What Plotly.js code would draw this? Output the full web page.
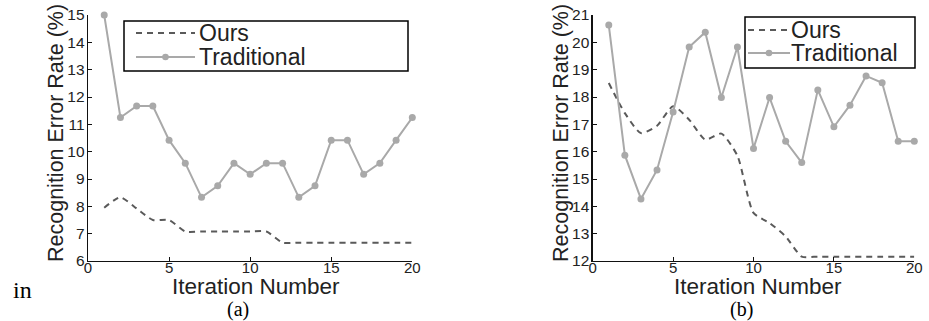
<!DOCTYPE html>
<html>
<head>
<meta charset="utf-8">
<script src="https://cdn.plot.ly/plotly-3.0.1.min.js"></script>
<style>html,body{margin:0;padding:0;background:#fff}#chart{width:929px;height:321px}</style>
</head>
<body>
<div id="chart"></div>
<script>
// ---- data ----
var iterations = [1,2,3,4,5,6,7,8,9,10,11,12,13,14,15,16,17,18,19,20];
var oursA = [7.95,8.33,7.92,7.5,7.5,7.08,7.08,7.08,7.08,7.08,7.08,6.67,6.67,6.67,6.67,6.67,6.67,6.67,6.67,6.67];
var tradA = [15,11.25,11.67,11.67,10.42,9.58,8.33,8.75,9.58,9.17,9.58,9.58,8.33,8.75,10.42,10.42,9.17,9.58,10.42,11.25];
var oursB = [18.51,17.41,16.68,16.95,17.66,17.17,16.44,16.66,15.85,13.76,13.39,12.9,12.16,12.16,12.16,12.16,12.16,12.16,12.16,12.16];
var tradB = [20.63,15.87,14.27,15.33,17.45,19.83,20.37,17.98,19.83,16.12,17.98,16.38,15.6,18.26,16.91,17.7,18.77,18.52,16.38,16.38];
var seriesNames = ["Ours","Traditional"];
var panelLabels = ["(a)","(b)"];
var xTitle = "Iteration Number";
var yTitle = "Recognition Error Rate (%)";

var W = 929, H = 321;
function px(x){return x/W;}
function py(y){return 1 - y/H;}

var oursColor = "#5a5a5a", tradColor = "#a9a9a9";
var sans = "Liberation Sans, Arial, sans-serif";
var serif = "Liberation Serif, Times New Roman, serif";

function oursTrace(y, xa, ya, shape){
  return {x: iterations, y: y, xaxis: xa, yaxis: ya, mode: "lines", name: seriesNames[0], showlegend:false,
    line: {color: oursColor, width: 2, dash: "6px,5px", shape: shape, smoothing: 0.6}, cliponaxis:false, hoverinfo:"x+y"};
}
function tradTrace(y, xa, ya){
  return {x: iterations, y: y, xaxis: xa, yaxis: ya, mode: "lines+markers", name: seriesNames[1], showlegend:false,
    line: {color: tradColor, width: 2}, marker: {color: tradColor, size: 7}, cliponaxis:false, hoverinfo:"x+y"};
}

var data = [
  oursTrace(oursA, "x", "y", "spline"),
  tradTrace(tradA, "x", "y"),
  oursTrace(oursB, "x2", "y2", "spline"),
  tradTrace(tradB, "x2", "y2")
];

function xaxis(domain, anchor){
  return {domain: domain, anchor: anchor, range: [0,20], dtick: 5, tick0: 0,
    showgrid: false, zeroline: false, showline: true, linecolor: "#111", linewidth: 1.3,
    ticks: "inside", ticklen: 4, tickcolor: "#111", tickfont: {family: sans, size: 15, color: "#222"},
    ticklabelstandoff: -7, automargin: false};
}
function yaxis(domain, anchor, range){
  return {domain: domain, anchor: anchor, range: range, dtick: 1,
    showgrid: false, zeroline: false, showline: true, linecolor: "#111", linewidth: 1.3,
    ticks: "inside", ticklen: 4, tickcolor: "#111", tickfont: {family: sans, size: 15.5, color: "#222"},
    ticklabelstandoff: -1, automargin: false};
}

var yDom = [py(261), py(15)];

var shapes = [], annotations = [];
// axis titles
function axisTitles(xc, yc){
  annotations.push({xref:"paper", yref:"paper", x:px(xc), y:py(286), xanchor:"center", yanchor:"middle",
    text:xTitle, showarrow:false, font:{family:sans, size:22.5, color:"#222"}});
  annotations.push({xref:"paper", yref:"paper", x:px(yc), y:py(133), xanchor:"center", yanchor:"middle", textangle:-90,
    text:yTitle, showarrow:false, font:{family:sans, size:21.5, color:"#222"}});
}
axisTitles(256, 56);
axisTitles(758, 561);

// manual legends
function legend(box, oursRowY, tradRowY, sampleX0, sampleX1, textX){
  shapes.push({type:"rect", xref:"paper", yref:"paper", x0:px(box[0]), x1:px(box[1]), y0:py(box[3]), y1:py(box[2]),
    line:{color:"#000", width:1.5}, fillcolor:"#fff", layer:"above"});
  shapes.push({type:"line", xref:"paper", yref:"paper", x0:px(sampleX0), x1:px(sampleX1), y0:py(oursRowY), y1:py(oursRowY),
    line:{color:oursColor, width:2, dash:"6px,5px"}, layer:"above"});
  shapes.push({type:"line", xref:"paper", yref:"paper", x0:px(sampleX0), x1:px(sampleX1), y0:py(tradRowY), y1:py(tradRowY),
    line:{color:tradColor, width:2}, layer:"above"});
  var cx = (sampleX0+sampleX1)/2, r = 3.3;
  shapes.push({type:"circle", xref:"paper", yref:"paper", x0:px(cx-r), x1:px(cx+r), y0:py(tradRowY+r), y1:py(tradRowY-r),
    line:{color:tradColor, width:0}, fillcolor:tradColor, layer:"above"});
  annotations.push({xref:"paper", yref:"paper", x:px(textX), y:py(oursRowY), xanchor:"left", yanchor:"middle",
    text:seriesNames[0], showarrow:false, font:{family:sans, size:23, color:"#222"}});
  annotations.push({xref:"paper", yref:"paper", x:px(textX), y:py(tradRowY), xanchor:"left", yanchor:"middle",
    text:seriesNames[1], showarrow:false, font:{family:sans, size:23, color:"#222"}});
}
legend([124,408,21,71], 33, 57, 136, 195, 197);
legend([745,915,17,68], 30, 53, 748, 790, 789);

annotations.push({xref:"paper", yref:"paper", x:px(238), y:py(309), xanchor:"center", yanchor:"middle",
  text:panelLabels[0], showarrow:false, font:{family:serif, size:20, color:"#000"}});
annotations.push({xref:"paper", yref:"paper", x:px(741), y:py(309), xanchor:"center", yanchor:"middle",
  text:panelLabels[1], showarrow:false, font:{family:serif, size:20, color:"#000"}});
annotations.push({xref:"paper", yref:"paper", x:px(11), y:py(290), xanchor:"left", yanchor:"middle",
  text:"in", showarrow:false, font:{family:serif, size:24, color:"#000"}});

var layout = {
  width: W, height: H,
  margin: {l:0, r:0, t:0, b:0, pad:0},
  paper_bgcolor: "#fff", plot_bgcolor: "#fff",
  showlegend: false,
  xaxis: xaxis([px(88), px(412.3)], "y"),
  yaxis: yaxis(yDom, "x", [6,15]),
  xaxis2: xaxis([px(592.7), px(914.3)], "y2"),
  yaxis2: yaxis(yDom, "x2", [12,21]),
  shapes: shapes,
  annotations: annotations
};

Plotly.newPlot("chart", data, layout, {displayModeBar:false, staticPlot:true});
</script>
</body>
</html>
